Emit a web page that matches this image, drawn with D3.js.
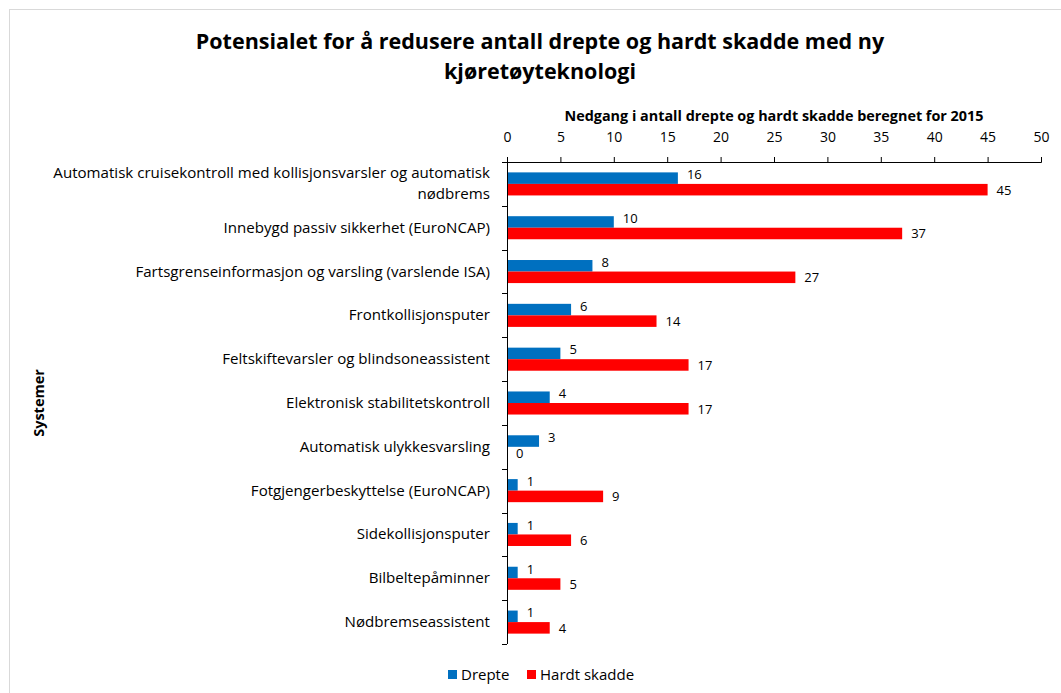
<!DOCTYPE html>
<html>
<head>
<meta charset="utf-8">
<script src="https://cdn.jsdelivr.net/npm/d3@7"></script>
<style>
  body { margin: 0; background: #fff; }
  text { font-family: "Open Sans", "Liberation Sans", sans-serif; fill: #000; }
</style>
</head>
<body>
<div id="chart"></div>
<script>
'use strict';

var systemer = [
	['Automatisk cruisekontroll med kollisjonsvarsler og automatisk', 'nødbrems'],
	['Innebygd passiv sikkerhet (EuroNCAP)'],
	['Fartsgrenseinformasjon og varsling (varslende ISA)'],
	['Frontkollisjonsputer'],
	['Feltskiftevarsler og blindsoneassistent'],
	['Elektronisk stabilitetskontroll'],
	['Automatisk ulykkesvarsling'],
	['Fotgjengerbeskyttelse (EuroNCAP)'],
	['Sidekollisjonsputer'],
	['Bilbeltepåminner'],
	['Nødbremseassistent']
];
var drepte = [16, 10, 8, 6, 5, 4, 3, 1, 1, 1, 1];
var hardtSkadde = [45, 37, 27, 14, 17, 17, 0, 9, 6, 5, 4];
var serier = ['Drepte', 'Hardt skadde'];
var farger = ['#0070c0', '#ff0000'];
var xTicks = [0, 5, 10, 15, 20, 25, 30, 35, 40, 45, 50];

var width = 1061, height = 693;
var pLeft = 507, pRight = 1041, pTop = 162, pBottom = 644;

var svg = d3.select('#chart').append('svg')
	.attr('width', width)
	.attr('height', height);

// chart area frame
svg.append('rect')
	.attr('x', 9.5).attr('y', 9.5)
	.attr('width', 1070).attr('height', 700)
	.attr('fill', 'none')
	.attr('stroke', '#d9d9d9');

svg.append('text')
	.attr('x', 540).attr('y', 49)
	.attr('text-anchor', 'middle')
	.attr('font-size', 21.5).attr('font-weight', 'bold')
	.text('Potensialet for å redusere antall drepte og hardt skadde med ny');
svg.append('text')
	.attr('x', 540).attr('y', 79)
	.attr('text-anchor', 'middle')
	.attr('font-size', 21.5).attr('font-weight', 'bold')
	.text('kjøretøyteknologi');

var idx = d3.range(systemer.length);
var x = d3.scaleLinear().domain([0, 50]).range([pLeft, pRight]);
var y = d3.scaleBand().domain(idx).range([pTop, pBottom]);
var y1 = d3.scaleBand().domain([0, 1]).range([0, y.bandwidth()]).paddingOuter(0.9).paddingInner(0);

// top value axis
var xAxis = svg.append('g')
	.attr('transform', 'translate(0,' + pTop + ')')
	.call(d3.axisTop(x).tickValues(xTicks).tickSize(5).tickPadding(15));
xAxis.selectAll('text').attr('font-size', 14).attr('font-family', '"Open Sans", sans-serif');
xAxis.select('.domain').attr('stroke', '#000');

svg.append('text')
	.attr('x', (pLeft + pRight) / 2).attr('y', 121)
	.attr('text-anchor', 'middle')
	.attr('font-size', 14.4).attr('font-weight', 'bold')
	.text('Nedgang i antall drepte og hardt skadde beregnet for 2015');

// category axis
svg.append('line')
	.attr('x1', pLeft + 0.5).attr('x2', pLeft + 0.5)
	.attr('y1', pTop).attr('y2', pBottom)
	.attr('stroke', '#000');
svg.selectAll('.ctick')
	.data(d3.range(systemer.length + 1))
	.enter().append('line')
	.attr('x1', pLeft - 5).attr('x2', pLeft)
	.attr('y1', function(i) { return Math.round(pTop + i * y.bandwidth()) + 0.5; })
	.attr('y2', function(i) { return Math.round(pTop + i * y.bandwidth()) + 0.5; })
	.attr('stroke', '#000');

var labels = svg.selectAll('.cat')
	.data(idx)
	.enter().append('text')
	.attr('text-anchor', 'end')
	.attr('font-size', 15.1)
	.attr('x', 490)
	.attr('y', function(i) { return y(i) + y.bandwidth() / 2 + 5 - (systemer[i].length - 1) * 10.5; });
labels.each(function(i) {
	var t = d3.select(this);
	systemer[i].forEach(function(line, k) {
		t.append('tspan').attr('x', 490).attr('dy', k == 0 ? 0 : 21).text(line);
	});
});

svg.append('text')
	.attr('transform', 'translate(44,' + ((pTop + pBottom) / 2) + ') rotate(-90)')
	.attr('text-anchor', 'middle')
	.attr('font-size', 14.5).attr('font-weight', 'bold')
	.text('Systemer');

var verdier = [drepte, hardtSkadde];
verdier.forEach(function(serie, s) {
	svg.selectAll('.bar' + s)
		.data(idx)
		.enter().append('rect')
		.attr('x', pLeft + 1)
		.attr('y', function(i) { return y(i) + y1(s); })
		.attr('width', function(i) { return Math.max(0, x(serie[i]) - pLeft - 1); })
		.attr('height', y1.bandwidth())
		.attr('fill', farger[s]);
	svg.selectAll('.val' + s)
		.data(idx)
		.enter().append('text')
		.attr('x', function(i) { return x(serie[i]) + 9; })
		.attr('y', function(i) { return y(i) + y1(s) + y1.bandwidth() / 2 + (s == 0 ? 1 : 5); })
		.attr('font-size', 13)
		.text(function(i) { return serie[i]; });
});

// legend
var legend = svg.append('g').attr('transform', 'translate(448,675)');
var lx = [0, 79];
serier.forEach(function(navn, s) {
	legend.append('rect')
		.attr('x', lx[s]).attr('y', -5)
		.attr('width', 9).attr('height', 9)
		.attr('fill', farger[s]);
	legend.append('text')
		.attr('x', lx[s] + 13).attr('y', 5)
		.attr('font-size', 15)
		.text(navn);
});
</script>
</body>
</html>
